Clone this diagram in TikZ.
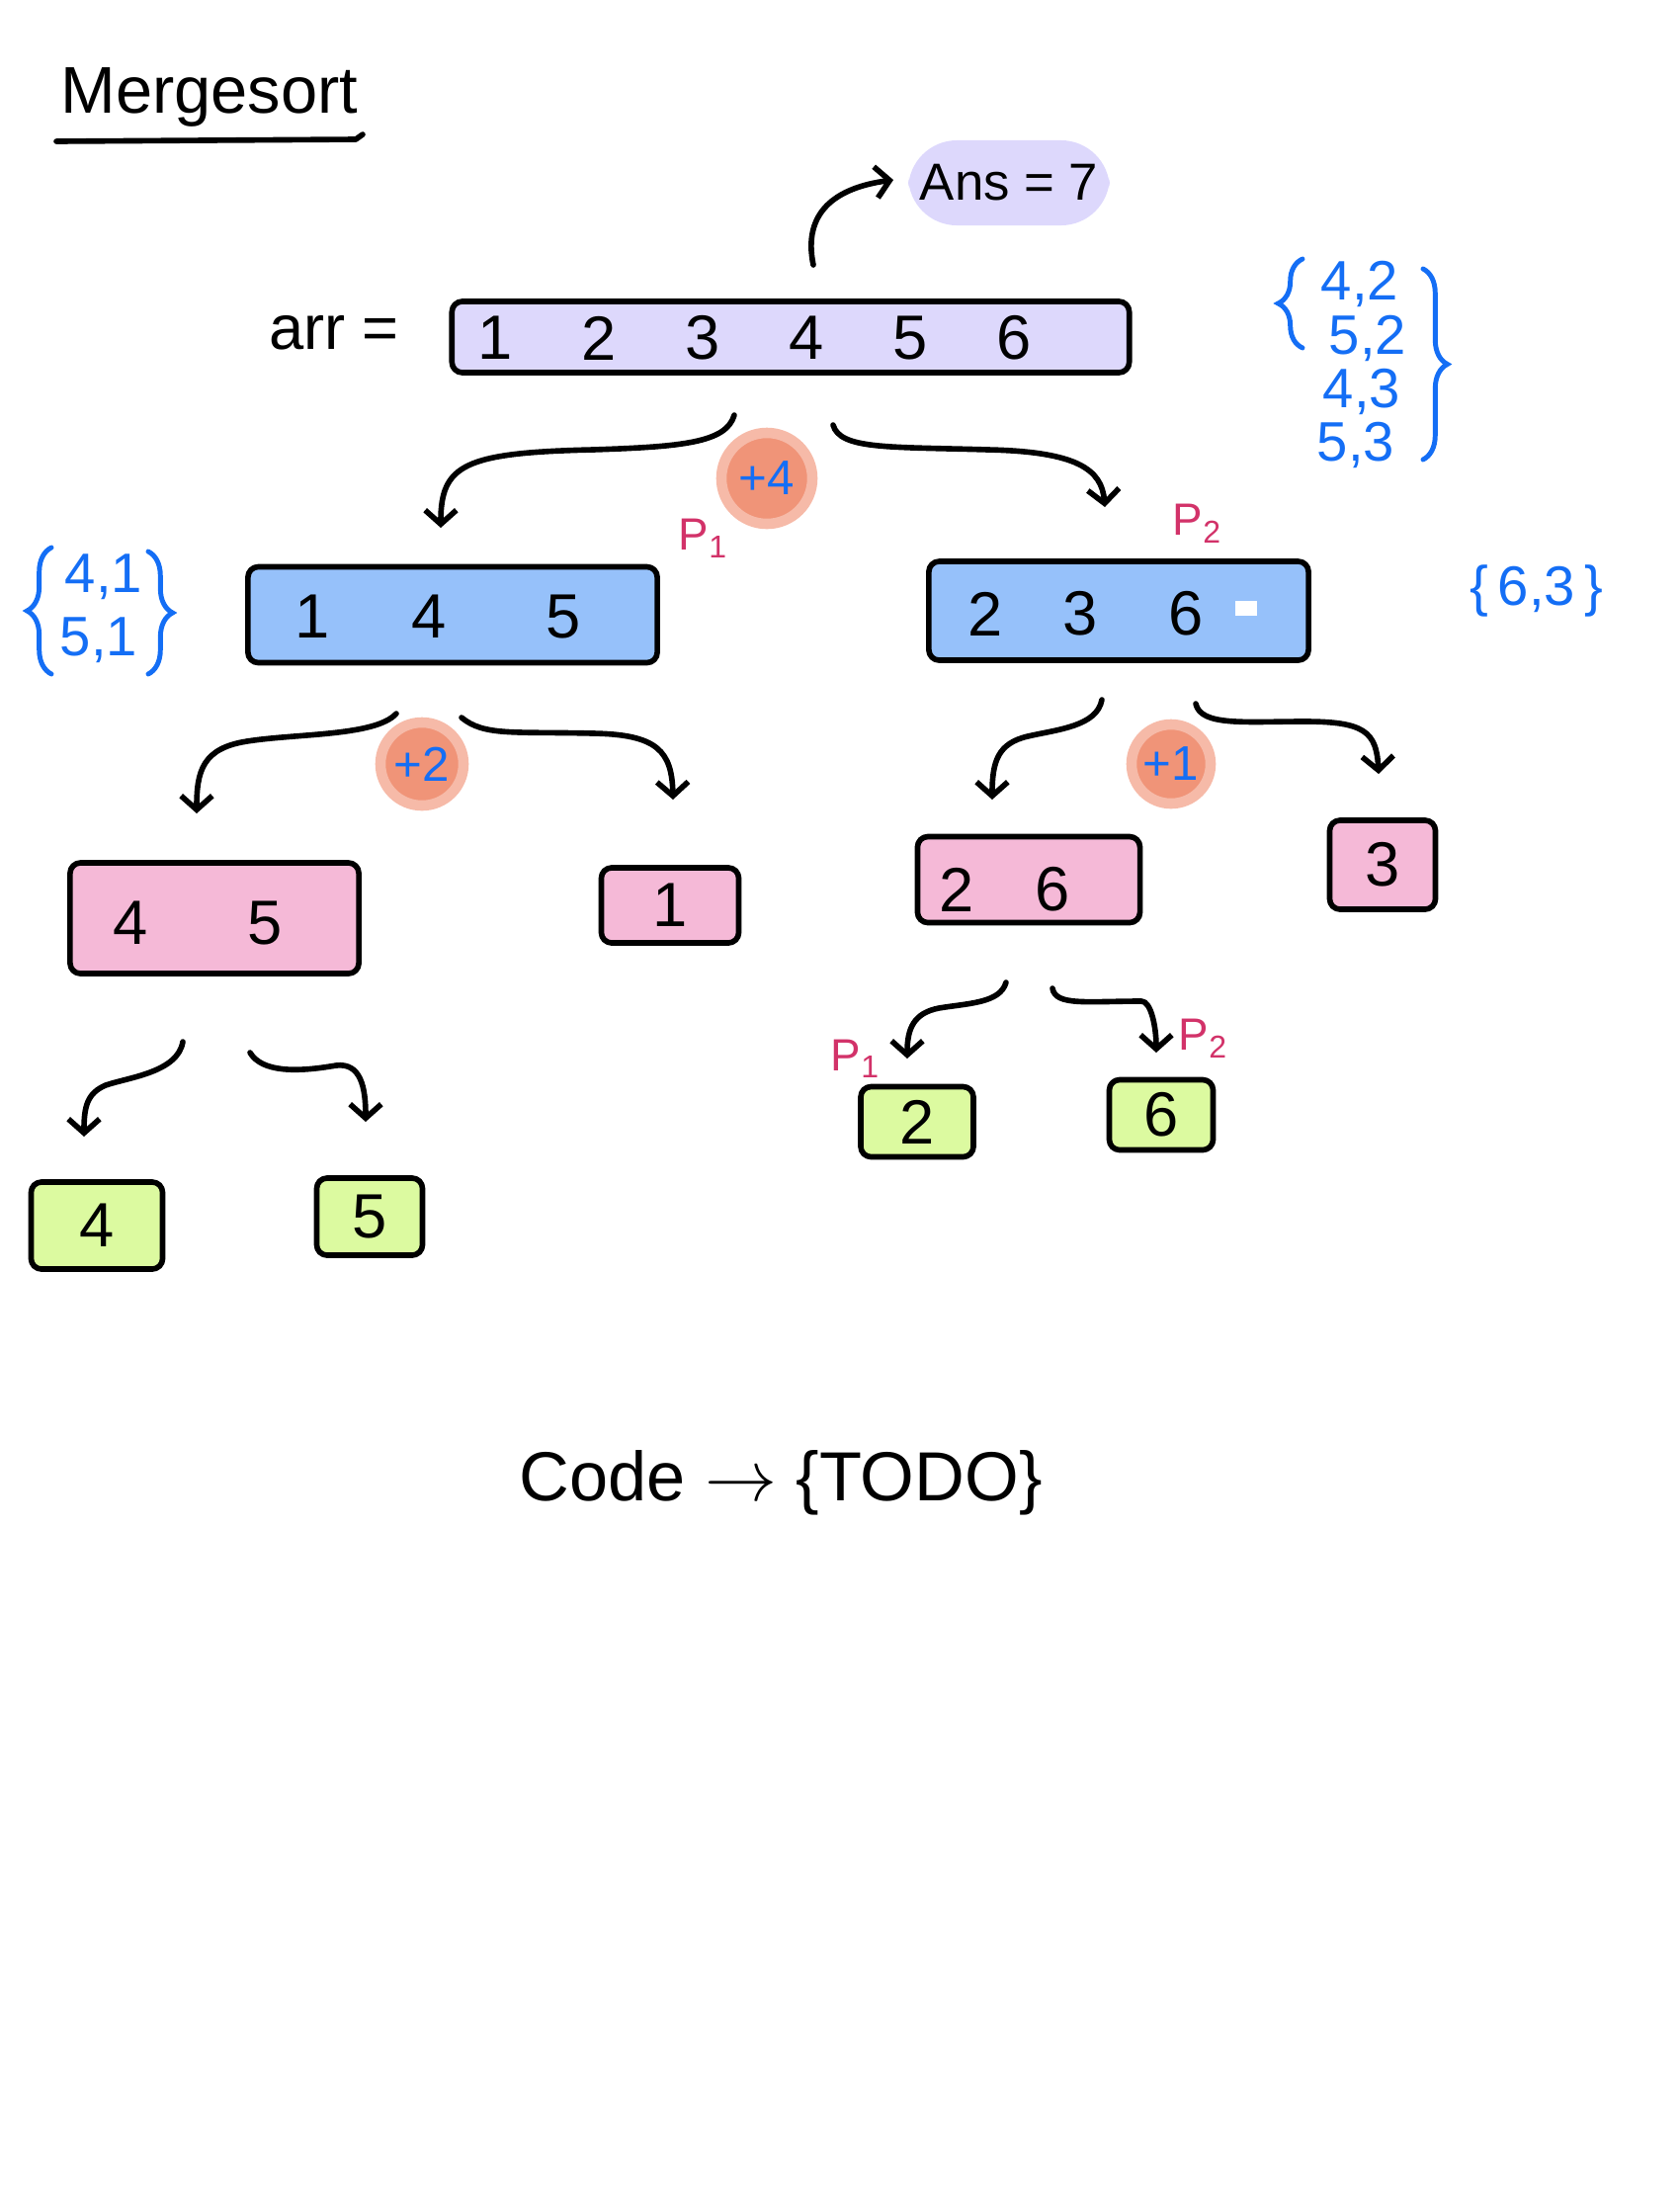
\documentclass[tikz,border=0pt]{standalone}
\usepackage{fontspec}
\setmainfont{Liberation Sans}
\usepackage{tikz}
\usetikzlibrary{calc}
\usetikzlibrary{arrows.meta}
\usetikzlibrary{decorations.pathreplacing}

\definecolor{arrpurple}{RGB}{221,216,252}
\definecolor{lblue}{RGB}{150,193,250}
\definecolor{lpink}{RGB}{245,185,215}
\definecolor{lgreen}{RGB}{220,250,160}
\definecolor{bumporange}{RGB}{240,148,120}
\definecolor{bumphalo}{RGB}{246,186,168}
\definecolor{setblue}{RGB}{20,110,245}
\definecolor{ptrpink}{RGB}{210,50,105}

\begin{document}
\begin{tikzpicture}[x=0.01cm, y=-0.01cm,
    hand/.style = {line width=1.6pt, line cap=round, line join=round},
    arrowline/.style = {hand, -{Straight Barb[length=4pt,width=9pt]}},
    cell/.style = {draw, hand, rounded corners=3pt, inner sep=0pt},
    num/.style = {font=\fontsize{18}{20}\selectfont},
    setlbl/.style = {text=setblue, font=\fontsize{16}{18}\selectfont},
    setbrace/.style = {draw=setblue, line width=1.4pt, line cap=round,
                       decorate, decoration={brace, amplitude=7pt}},
    ptr/.style = {text=ptrpink, font=\fontsize{13}{15}\selectfont},
    bump/.style = {circle, fill=bumporange, draw=bumphalo, line width=3pt, inner sep=0pt,
                   text=setblue, font=\fontsize{14}{16}\selectfont}]
    \useasboundingbox (0,0) rectangle (1700,2232);

    % title
    \node[font=\fontsize{19}{23}\selectfont] (title) at (212,98) {Mergesort};
    \draw[hand] (57,143) -- (360,141) -- (367,136);

    % whole array
    \node[num] (arrlbl) at (338,337) {arr =};
    \node[cell, fill=arrpurple, minimum width=6.85cm, minimum height=0.72cm] (arr) at (800,341) {};
    \foreach \v in {1,...,6}
        \node[num] (a\v) at (396+\v*105,342) {\v};
    \node[fill=arrpurple, rounded corners=14pt, minimum width=1.93cm, minimum height=0.86cm,
          font=\fontsize{15}{18}\selectfont] (ans) at (1021,185) {Ans = 7};

    % first split
    \node[cell, fill=lblue, minimum width=4.14cm, minimum height=0.97cm] (L) at (458,622) {};
    \foreach \v/\x in {1/316,4/434,5/570}
        \node[num] (l\v) at (\x,624) {\v};
    \node[cell, fill=lblue, minimum width=3.84cm, minimum height=1.0cm] (R) at (1132,618) {};
    \foreach \v/\x in {2/997,3/1093,6/1200}
        \node[num] (r\v) at (\x,621) {\v};
    \fill[white] (1250,608) rectangle (1272,623);

    % second split
    \node[cell, fill=lpink, minimum width=2.92cm, minimum height=1.12cm] (LL) at (217,929) {};
    \node[num] (ll4) at (132,934) {4};
    \node[num] (ll5) at (268,934) {5};
    \node[cell, num, fill=lpink, minimum width=1.39cm, minimum height=0.76cm] (LR) at (678,916) {1};
    \node[cell, fill=lpink, minimum width=2.25cm, minimum height=0.87cm] (RL) at (1041,890) {};
    \node[num] (rl2) at (968,900) {2};
    \node[num] (rl6) at (1065,900) {6};
    \node[cell, num, fill=lpink, minimum width=1.07cm, minimum height=0.90cm] (RR) at (1399,875) {3};

    % single elements
    \node[cell, num, fill=lgreen, minimum width=1.33cm, minimum height=0.88cm] (LLa) at (98,1240) {4};
    \node[cell, num, fill=lgreen, minimum width=1.07cm, minimum height=0.78cm] (LLb) at (374,1231) {5};
    \node[cell, num, fill=lgreen, minimum width=1.14cm, minimum height=0.71cm] (RLa) at (928,1135) {2};
    \node[cell, num, fill=lgreen, minimum width=1.05cm, minimum height=0.71cm] (RLb) at (1175,1128) {6};

    % inversion counts
    \node[bump, minimum size=0.92cm] (c4) at (776,484) {+4};
    \node[bump, minimum size=0.84cm] (c2) at (427,773) {+2};
    \node[bump, minimum size=0.80cm] (c1) at (1185,773) {+1};

    % pointers
    \node[ptr] (p1) at (712,545) {P\textsubscript{1}};
    \node[ptr] (p2) at (1212,530) {P\textsubscript{2}};
    \node[ptr] (q1) at (866,1071) {P\textsubscript{1}};
    \node[ptr] (q2) at (1218,1051) {P\textsubscript{2}};

    % pairs
    \node[setlbl] (s42) at (1376,287) {4,2};
    \node[setlbl] (s52) at (1384,342) {5,2};
    \node[setlbl] (s43) at (1378,396) {4,3};
    \node[setlbl] (s53) at (1372,450) {5,3};
    \draw[setbrace] (1318,352) -- (1318,262);
    \draw[setbrace] (1440,272) -- (1440,465);
    \node[setlbl] (s41) at (105,584) {4,1};
    \node[setlbl] (s51) at (100,648) {5,1};
    \draw[setbrace] (52,682) -- (52,554);
    \draw[setbrace] (150,558) -- (150,682);
    \node[setlbl] (s63) at (1555,598) {\{\,6,3\,\}};

    % arrows
    \coordinate (ansA) at (823,268);
    \coordinate (ansB) at (904,182);
    \coordinate (splitL) at (743,420);
    \coordinate (splitR) at (843,430);
    \coordinate (toL) at (446,534);
    \coordinate (toR) at (1118,513);
    \coordinate (fromL1) at (401,722);
    \coordinate (fromL2) at (467,726);
    \coordinate (toLL) at (199,823);
    \coordinate (toLR) at (681,809);
    \coordinate (fromR1) at (1115,708);
    \coordinate (fromR2) at (1210,712);
    \coordinate (toRL) at (1004,809);
    \coordinate (toRR) at (1395,783);
    \coordinate (fromLL1) at (185,1054);
    \coordinate (fromLL2) at (253,1065);
    \coordinate (toLLa) at (85,1150);
    \coordinate (toLLb) at (370,1135);
    \coordinate (fromRL1) at (1018,994);
    \coordinate (fromRL2) at (1065,1000);
    \coordinate (toRLa) at (918,1071);
    \coordinate (toRLb) at (1170,1065);

    \draw[arrowline] (ansA) .. controls (812,215) and (845,190) .. (ansB);
    \draw[arrowline] (splitL) .. controls (735,448) and (690,452) .. (600,455)
        .. controls (470,458) and (446,470) .. (toL);
    \draw[arrowline] (splitR) .. controls (850,455) and (900,452) .. (1000,455)
        .. controls (1090,457) and (1115,475) .. (toR);
    \draw[arrowline] (fromL1) .. controls (380,745) and (300,742) .. (250,750)
        .. controls (205,757) and (199,780) .. (toLL);
    \draw[arrowline] (fromL2) .. controls (490,745) and (520,740) .. (600,742)
        .. controls (665,743) and (680,760) .. (toLR);
    \draw[arrowline] (fromR1) .. controls (1110,735) and (1070,738) .. (1040,745)
        .. controls (1010,752) and (1004,770) .. (toRL);
    \draw[arrowline] (fromR2) .. controls (1215,735) and (1260,730) .. (1320,730)
        .. controls (1380,730) and (1393,740) .. (toRR);
    \draw[arrowline] (fromLL1) .. controls (180,1085) and (130,1090) .. (107,1098)
        .. controls (88,1106) and (85,1120) .. (toLLa);
    \draw[arrowline] (fromLL2) .. controls (265,1085) and (300,1085) .. (340,1078)
        .. controls (365,1075) and (370,1100) .. (toLLb);
    \draw[arrowline] (fromRL1) .. controls (1012,1015) and (980,1015) .. (950,1020)
        .. controls (925,1025) and (918,1040) .. (toRLa);
    \draw[arrowline] (fromRL2) .. controls (1068,1018) and (1100,1013) .. (1155,1013)
        .. controls (1165,1013) and (1170,1040) .. (toRLb);

    % footer
    \node[font=\fontsize{20}{24}\selectfont] (todo) at (790,1500) {Code $\rightarrow$ \{TODO\}};
\end{tikzpicture}
\end{document}
